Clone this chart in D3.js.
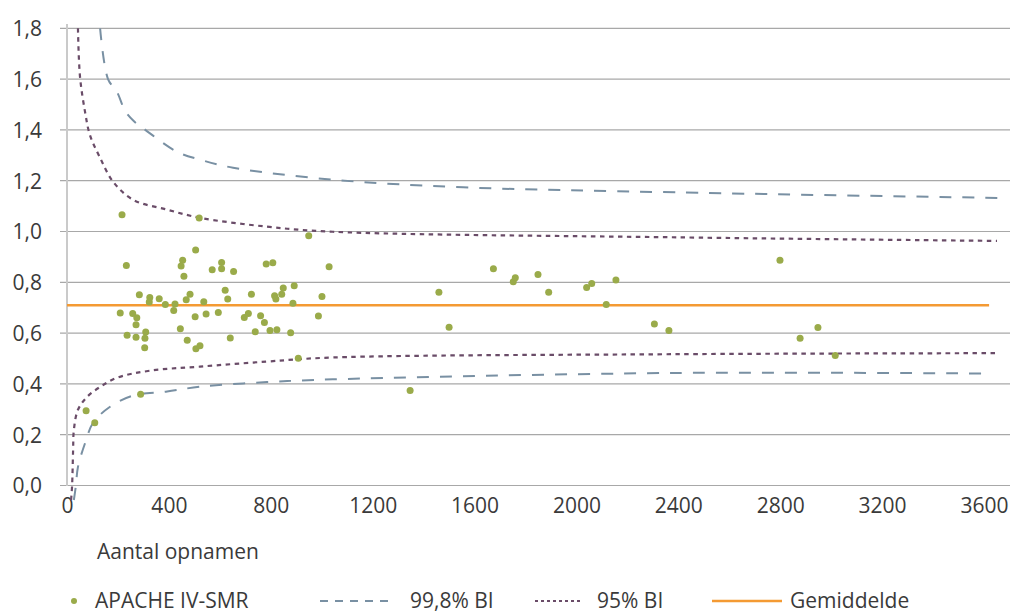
<!DOCTYPE html>
<html>
<head>
<meta charset="utf-8">
<script src="https://cdn.jsdelivr.net/npm/d3@7/dist/d3.min.js"></script>
<style>
  body { margin: 0; background: #fff; }
  svg text { font-family: 'Open Sans', sans-serif; fill: #3a3a3a; }
</style>
</head>
<body>
<svg id="chart" width="1013" height="613"></svg>
<script>
// APACHE IV-SMR per ziekenhuis (aantal opnamen, SMR)
var smrX = [216, 519, 233, 505, 454, 448, 459, 570, 607, 607,
  654, 621, 631, 284, 325, 323, 362, 386, 424, 419,
  483, 468, 537, 209, 258, 274, 271, 236, 271, 309,
  306, 305, 503, 546, 594, 445, 472, 506, 522, 641,
  949, 782, 808, 1029, 892, 849, 843, 815, 820, 724,
  887, 1001, 712, 696, 760, 775, 987, 739, 797, 824,
  878, 908, 75, 109, 289, 1674, 1460, 1500, 1347, 1752,
  1760, 1849, 1891, 2040, 2060, 2155, 2117, 2306, 2363, 2799,
  2878, 2948, 3016];
var smrY = [1.066, 1.053, 0.866, 0.927, 0.887, 0.864, 0.824, 0.849, 0.878, 0.853,
  0.843, 0.769, 0.734, 0.751, 0.740, 0.722, 0.735, 0.713, 0.715, 0.689,
  0.753, 0.731, 0.723, 0.679, 0.677, 0.660, 0.633, 0.592, 0.584, 0.604,
  0.580, 0.542, 0.664, 0.675, 0.681, 0.617, 0.572, 0.538, 0.550, 0.581,
  0.983, 0.872, 0.877, 0.861, 0.786, 0.778, 0.753, 0.747, 0.734, 0.753,
  0.718, 0.744, 0.677, 0.661, 0.668, 0.642, 0.667, 0.605, 0.610, 0.613,
  0.601, 0.501, 0.294, 0.247, 0.359, 0.853, 0.761, 0.623, 0.374, 0.802,
  0.818, 0.831, 0.761, 0.780, 0.795, 0.809, 0.713, 0.636, 0.610, 0.887,
  0.580, 0.622, 0.512];

var upper998 = [[130, 1.80], [161, 1.60], [196, 1.55], [228, 1.475], [262, 1.435],
  [306, 1.401], [432, 1.314], [522, 1.283], [652, 1.251], [1044, 1.204],
  [1555, 1.174], [2395, 1.154], [3663, 1.132]];
var lower998 = [[27, -0.057], [35, 0.0], [43, 0.073], [71, 0.167], [102, 0.246],
  [169, 0.310], [259, 0.354], [393, 0.370], [522, 0.389], [785, 0.407],
  [1044, 0.418], [2379, 0.443], [3596, 0.441]];
var upper95 = [[43, 1.80], [51, 1.610], [71, 1.470], [90, 1.380], [130, 1.290],
  [181, 1.196], [259, 1.125], [393, 1.086], [522, 1.054], [785, 1.019],
  [1044, 0.999], [2395, 0.977], [3651, 0.963]];
var lower95 = [[16, -0.057], [20, 0.0], [24, 0.140], [27, 0.219], [43, 0.298],
  [79, 0.349], [130, 0.388], [196, 0.424], [326, 0.452], [522, 0.468],
  [785, 0.488], [1044, 0.504], [2395, 0.517], [3651, 0.521]];

var meanValue = 0.71;
var meanRange = [0, 3620];

var xTicks = [0, 400, 800, 1200, 1600, 2000, 2400, 2800, 3200, 3600];
var yTicks = [0, 0.2, 0.4, 0.6, 0.8, 1.0, 1.2, 1.4, 1.6, 1.8];

var legendLabels = ['APACHE IV-SMR', '99,8% BI', '95% BI', 'Gemiddelde'];
var xTitle = 'Aantal opnamen';

var svg = d3.select('#chart');

var x = d3.scaleLinear().domain([0, 3600]).range([67, 984]);
var y = d3.scaleLinear().domain([0, 1.8]).range([485.5, 28.3]);
var fmt = function (d) {
  return d3.format('.1f')(d).replace('.', ',');
};

// gridlines
svg.append('g')
  .selectAll('line')
  .data(yTicks)
  .enter()
  .append('line')
  .attr('x1', 60)
  .attr('x2', 1010)
  .attr('y1', function (d) { return y(d); })
  .attr('y2', function (d) { return y(d); })
  .style('stroke', '#a8a8a8')
  .style('stroke-width', 1.2);

// vertical axis line at 0
svg.append('line')
  .attr('x1', x(0)).attr('x2', x(0))
  .attr('y1', 24).attr('y2', 486)
  .style('stroke', '#cacaca')
  .style('stroke-width', 2);

// y axis labels
var yAxis = d3.axisLeft(y).tickValues(yTicks).tickFormat(fmt).tickSize(0).tickPadding(0);
svg.append('g')
  .attr('transform', 'translate(42,0)')
  .call(yAxis)
  .call(function (g) {
    g.select('.domain').remove();
    g.selectAll('text')
      .style('font-size', '21px')
      .attr('dy', '0.35em');
  });

// x axis labels
var xAxis = d3.axisBottom(x).tickValues(xTicks).tickFormat(d3.format('d')).tickSize(0).tickPadding(0);
svg.append('g')
  .attr('transform', 'translate(0,498)')
  .call(xAxis)
  .call(function (g) {
    g.select('.domain').remove();
    g.selectAll('text')
      .style('font-size', '21px')
      .attr('dy', '0.71em');
  });

svg.append('text')
  .attr('x', 97)
  .attr('y', 552)
  .attr('dy', '0.35em')
  .style('font-size', '21px')
  .text(xTitle);

// funnel limits
var line = d3.line()
  .x(function (d) { return x(d[0]); })
  .y(function (d) { return y(d[1]); })
  .curve(d3.curveCatmullRom.alpha(0.5));

var dashed = { stroke: '#7990a3', width: 2, dash: '12,11' };
var dotted = { stroke: '#6a4c68', width: 2.2, dash: '4.5,4.5' };

[upper998, lower998].forEach(function (c) {
  svg.append('path')
    .attr('d', line(c))
    .style('fill', 'none')
    .style('stroke', dashed.stroke)
    .style('stroke-width', dashed.width)
    .style('stroke-dasharray', dashed.dash);
});
[upper95, lower95].forEach(function (c) {
  svg.append('path')
    .attr('d', line(c))
    .style('fill', 'none')
    .style('stroke', dotted.stroke)
    .style('stroke-width', dotted.width)
    .style('stroke-dasharray', dotted.dash);
});

// mean
svg.append('line')
  .attr('x1', x(meanRange[0]))
  .attr('x2', x(meanRange[1]))
  .attr('y1', y(meanValue))
  .attr('y2', y(meanValue))
  .style('stroke', '#f49a33')
  .style('stroke-width', 2.5);

// hospitals
svg.append('g')
  .selectAll('circle')
  .data(d3.range(smrX.length))
  .enter()
  .append('circle')
  .attr('cx', function (i) { return x(smrX[i]); })
  .attr('cy', function (i) { return y(smrY[i]); })
  .attr('r', 3.5)
  .style('fill', '#9aab4a');

// legend
var ly = 601;
var legend = svg.append('g');
legend.append('circle').attr('cx', 74).attr('cy', ly).attr('r', 3).style('fill', '#9aab4a');
legend.append('line').attr('x1', 320).attr('x2', 391).attr('y1', ly).attr('y2', ly)
  .style('stroke', dashed.stroke).style('stroke-width', dashed.width).style('stroke-dasharray', '8,7');
legend.append('line').attr('x1', 535).attr('x2', 581).attr('y1', ly).attr('y2', ly)
  .style('stroke', dotted.stroke).style('stroke-width', dotted.width).style('stroke-dasharray', '3,3');
legend.append('line').attr('x1', 712).attr('x2', 782).attr('y1', ly).attr('y2', ly)
  .style('stroke', '#f49a33').style('stroke-width', 2.5);

legend.selectAll('text')
  .data(legendLabels)
  .enter()
  .append('text')
  .attr('x', function (d, i) { return [95, 410, 597, 790][i]; })
  .attr('y', ly)
  .attr('dy', '0.35em')
  .style('font-size', '21px')
  .text(function (d) { return d; });
</script>
</body>
</html>
